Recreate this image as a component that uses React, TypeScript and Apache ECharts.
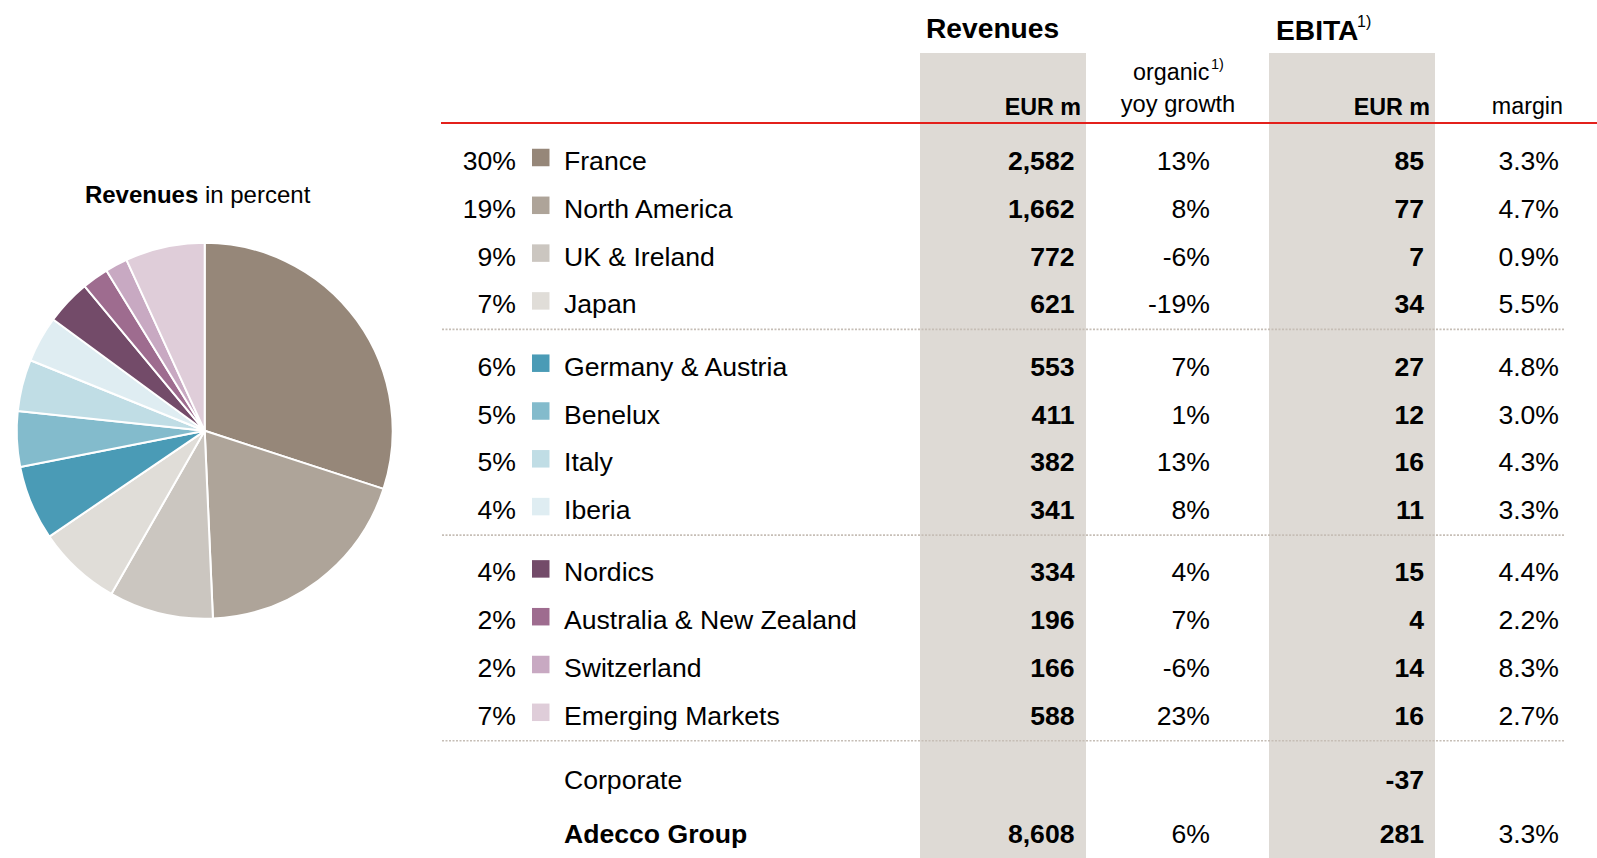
import React, { useEffect, useRef } from "react";
import * as echarts from "echarts";

const regions = [
  "France",
  "North America",
  "UK & Ireland",
  "Japan",
  "Germany & Austria",
  "Benelux",
  "Italy",
  "Iberia",
  "Nordics",
  "Australia & New Zealand",
  "Switzerland",
  "Emerging Markets",
];
const sharePct = [30, 19, 9, 7, 6, 5, 5, 4, 4, 2, 2, 7];
const revenues = [2582, 1662, 772, 621, 553, 411, 382, 341, 334, 196, 166, 588];
const organicGrowth = [13, 8, -6, -19, 7, 1, 13, 8, 4, 7, -6, 23];
const ebita = [85, 77, 7, 34, 27, 12, 16, 11, 15, 4, 14, 16];
const margins = [3.3, 4.7, 0.9, 5.5, 4.8, 3.0, 4.3, 3.3, 4.4, 2.2, 8.3, 2.7];

const corporateLabel = "Corporate";
const corporateEbita = -37;
const totalLabel = "Adecco Group";
const totalRevenue = 8608;
const totalGrowth = 6;
const totalEbita = 281;
const totalMargin = 3.3;

const sliceColors = [
  "#968779",
  "#aea499",
  "#cbc6c0",
  "#e0ddd8",
  "#4a9bb6",
  "#83bbcc",
  "#c0dde5",
  "#dfedf2",
  "#734b69",
  "#9e6c8f",
  "#c8a9c2",
  "#dfcdd9",
];

const FF = '"Liberation Sans", Arial, Helvetica, sans-serif';
const BODY = 26.6;
const SUB = 23.3;
const HEAD = 28.2;

const fmt = (v: number) => v.toLocaleString("en-US");

function txt(
  text: string,
  x: number,
  y: number,
  size: number,
  bold = false,
  align: "left" | "right" | "center" = "left"
) {
  return {
    type: "text",
    x,
    y,
    silent: true,
    z: 10,
    style: {
      text,
      fontSize: size,
      fontFamily: FF,
      fontWeight: bold ? "bold" : "normal",
      fill: "#000",
      align,
      verticalAlign: "middle",
    },
  };
}

export default function App() {
  const ref = useRef<HTMLDivElement>(null);

  useEffect(() => {
    if (!ref.current) return;
    const chart = echarts.init(ref.current, undefined, { renderer: "svg" });

    const ROW0 = 161;
    const STEP = 47.8;
    const GAP = 14.5;
    const rowY = (i: number) => ROW0 + i * STEP + Math.floor(i / 4) * GAP;

    const X_PCT = 516;
    const X_SQ = 532;
    const SQ = 17.5;
    const X_LABEL = 564;
    const X_REV = 1074.5;
    const X_GROW = 1210;
    const X_EBITA = 1424;
    const X_MARGIN = 1559;

    const graphic: any[] = [];

    // shaded columns
    graphic.push({
      type: "rect",
      silent: true,
      z: 1,
      shape: { x: 920, y: 53, width: 166, height: 810 },
      style: { fill: "#dedad5" },
    });
    graphic.push({
      type: "rect",
      silent: true,
      z: 1,
      shape: { x: 1269, y: 53, width: 166, height: 810 },
      style: { fill: "#dedad5" },
    });

    // red header rule
    graphic.push({
      type: "line",
      silent: true,
      z: 5,
      shape: { x1: 441, y1: 123, x2: 1597, y2: 123 },
      style: { stroke: "#e3201b", lineWidth: 2 },
    });

    // headers
    graphic.push(txt("Revenues", 926, 28, HEAD, true));
    graphic.push(txt("EBITA", 1276, 30, HEAD, true));
    graphic.push(txt("1)", 1357, 21, 16, false));
    graphic.push(txt("EUR m", 1081, 106.5, SUB, true, "right"));
    graphic.push(txt("organic", 1133, 71.5, SUB, false));
    graphic.push(txt("1)", 1211, 64, 14.5, false));
    graphic.push(txt("yoy growth", 1178, 103.5, 23.7, false, "center"));
    graphic.push(txt("EUR m", 1430, 106.5, SUB, true, "right"));
    graphic.push(txt("margin", 1563, 105.5, SUB, false, "right"));

    // pie title
    graphic.push({
      type: "text",
      x: 197.6,
      y: 194,
      silent: true,
      z: 10,
      style: {
        text: "{b|Revenues}{r| in percent}",
        align: "center",
        verticalAlign: "middle",
        fontFamily: FF,
        fontSize: 24,
        fill: "#000",
        rich: {
          b: { fontFamily: FF, fontSize: 24, fontWeight: "bold", fill: "#000" },
          r: { fontFamily: FF, fontSize: 24, fontWeight: "normal", fill: "#000" },
        },
      },
    });

    regions.forEach((name, i) => {
      const y = rowY(i);
      graphic.push(txt(`${sharePct[i]}%`, X_PCT, y, BODY, false, "right"));
      graphic.push({
        type: "rect",
        silent: true,
        z: 10,
        shape: { x: X_SQ, y: y - 3.5 - SQ / 2, width: SQ, height: SQ },
        style: { fill: sliceColors[i] },
      });
      graphic.push(txt(name, X_LABEL, y, BODY));
      graphic.push(txt(fmt(revenues[i]), X_REV, y, BODY, true, "right"));
      graphic.push(txt(`${organicGrowth[i]}%`, X_GROW, y, BODY, false, "right"));
      graphic.push(txt(String(ebita[i]), X_EBITA, y, BODY, true, "right"));
      graphic.push(txt(`${margins[i].toFixed(1)}%`, X_MARGIN, y, BODY, false, "right"));
      if (i % 4 === 3) {
        const sy = y + 25;
        graphic.push({
          type: "line",
          silent: true,
          z: 5,
          shape: { x1: 442, y1: sy, x2: 1565, y2: sy },
          style: { stroke: "#c6beb6", lineWidth: 1.6, lineDash: [2, 1.5] },
        });
      }
    });

    const yCorp = 779.5;
    graphic.push(txt(corporateLabel, X_LABEL, yCorp, BODY));
    graphic.push(txt(String(corporateEbita), X_EBITA, yCorp, BODY, true, "right"));

    const yTot = 833.5;
    graphic.push(txt(totalLabel, X_LABEL, yTot, BODY, true));
    graphic.push(txt(fmt(totalRevenue), X_REV, yTot, BODY, true, "right"));
    graphic.push(txt(`${totalGrowth}%`, X_GROW, yTot, BODY, false, "right"));
    graphic.push(txt(String(totalEbita), X_EBITA, yTot, BODY, true, "right"));
    graphic.push(txt(`${totalMargin.toFixed(1)}%`, X_MARGIN, yTot, BODY, false, "right"));

    chart.setOption({
      animation: false,
      backgroundColor: "#ffffff",
      graphic,
      series: [
        {
          type: "pie",
          center: [204.7, 430.8],
          radius: 188,
          startAngle: 90,
          clockwise: true,
          label: { show: false },
          labelLine: { show: false },
          emphasis: { disabled: true },
          itemStyle: { borderColor: "#ffffff", borderWidth: 2 },
          data: regions.map((name, i) => ({
            name,
            value: revenues[i],
            itemStyle: { color: sliceColors[i] },
          })),
        },
      ],
    });

    return () => chart.dispose();
  }, []);

  return (
    <div
      ref={ref}
      style={{ position: "fixed", left: 0, top: 0, width: 1597, height: 858 }}
    />
  );
}
